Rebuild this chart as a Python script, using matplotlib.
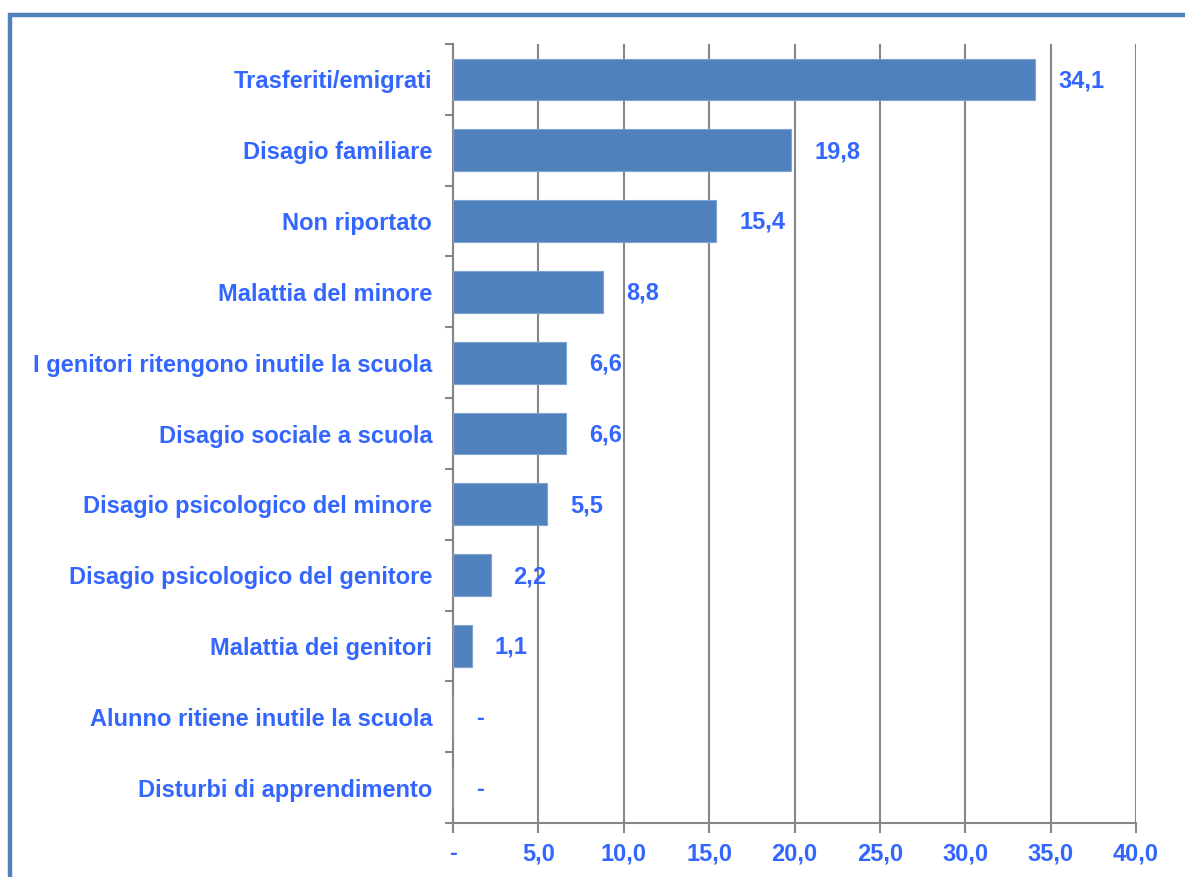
import matplotlib.pyplot as plt
from matplotlib.patches import Rectangle

categories = [
    "Trasferiti/emigrati",
    "Disagio familiare",
    "Non riportato",
    "Malattia del minore",
    "I genitori ritengono inutile la scuola",
    "Disagio sociale a scuola",
    "Disagio psicologico del minore",
    "Disagio psicologico del genitore",
    "Malattia dei genitori",
    "Alunno ritiene inutile la scuola",
    "Disturbi di apprendimento",
]
values = [34.1, 19.8, 15.4, 8.8, 6.6, 6.6, 5.5, 2.2, 1.1, 0.0, 0.0]
xticks = [0, 5, 10, 15, 20, 25, 30, 35, 40]

bar_color = "#4F81BD"
text_color = "#3366FF"
axis_gray = "#868686"
fs = 17

plt.rcParams["font.family"] = ["Liberation Sans", "DejaVu Sans"]
plt.rcParams["font.weight"] = "bold"

fig = plt.figure(figsize=(11.85, 8.77), dpi=100)
ax = fig.add_axes([453 / 1185, 1 - 823 / 877, (1136 - 453) / 1185, (823 - 44) / 877])

def fmt(v):
    return "-" if v == 0 else f"{v:.1f}".replace(".", ",")

n = len(categories)
ypos = list(range(n))
ax.barh(ypos, values, height=0.59, color=bar_color, edgecolor="#7FA3D0",
        linewidth=0.8, zorder=3)
ax.set_ylim(n - 0.5, -0.5)
ax.set_xlim(0, 40)

for y, v in zip(ypos, values):
    ax.text(v + 1.35, y + 0.02, fmt(v), va="center", ha="left", fontsize=fs,
            fontweight="bold", color=text_color, zorder=4)

# category labels on the left
ax.set_yticks(ypos)
ax.set_yticklabels(categories, fontsize=fs, fontweight="bold", color=text_color)
ax.tick_params(axis="y", length=0, pad=15)
# tick marks between categories
ax.set_yticks([i - 0.5 for i in range(n + 1)], minor=True)
ax.tick_params(axis="y", which="minor", length=6, width=1.5, color=axis_gray)

ax.set_xticks(xticks)
ax.set_xticklabels([fmt(t) for t in xticks], fontsize=fs, fontweight="bold",
                   color=text_color)
ax.tick_params(axis="x", length=7, width=1.5, color=axis_gray, pad=7)

ax.grid(axis="x", color=axis_gray, linewidth=1.5, zorder=1)
for side in ["top", "right"]:
    ax.spines[side].set_visible(False)
for side in ["left", "bottom"]:
    ax.spines[side].set_color(axis_gray)
    ax.spines[side].set_linewidth(1.5)

# outer frame of the chart area
frame = Rectangle((9.5 / 1185, -0.1), 1.2, 1 - 14.5 / 877 + 0.1,
                  transform=fig.transFigure, fill=False, edgecolor=bar_color,
                  linewidth=3.2, clip_on=False)
fig.patches.append(frame)

fig.savefig("out.png", dpi=100)
